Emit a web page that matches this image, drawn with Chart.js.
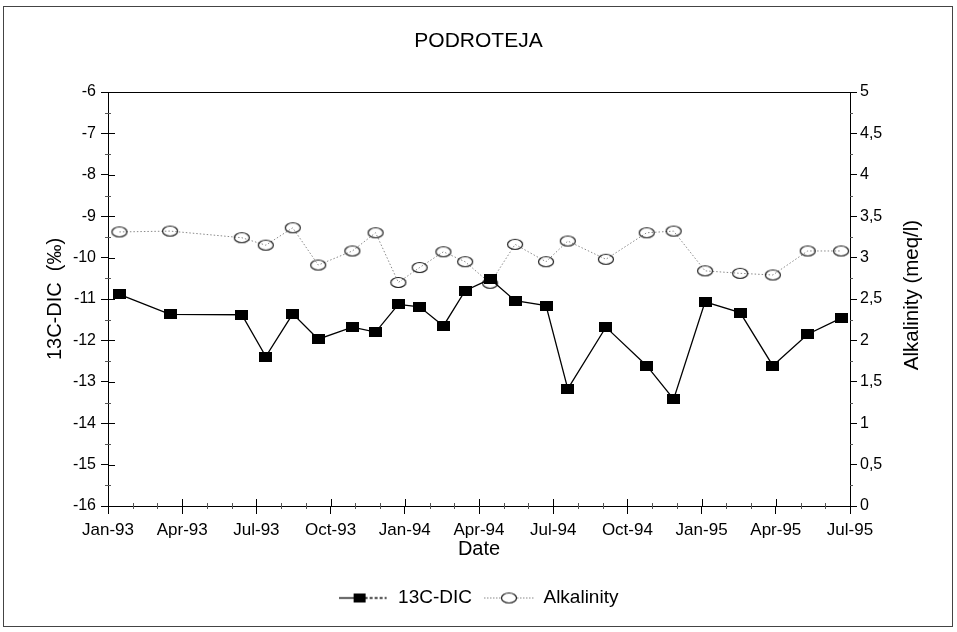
<!DOCTYPE html>
<html><head><meta charset="utf-8">
<script src="https://cdn.jsdelivr.net/npm/chart.js@4.4.1/dist/chart.umd.min.js"></script>
<style>
html,body{margin:0;padding:0;background:#fff;}
#wrap{position:relative;width:957px;height:632px;}
#frame{position:absolute;left:3px;top:6px;width:950px;height:621px;border:1px solid #444;box-sizing:border-box;pointer-events:none;}
canvas{position:absolute;left:0;top:0;}
</style></head><body>
<div id="wrap"><canvas id="c" width="957" height="632"></canvas><div id="frame"></div></div>
<script>
const chartTitle = 'PODROTEJA';
// sampling dates, in months since 1 Jan 1993
const sampleMonths = [0.46, 2.51, 5.41, 6.38, 7.47, 8.50, 9.88, 10.82, 11.74, 12.60, 13.56, 14.44, 15.45, 16.46, 17.71, 18.59, 20.13, 21.78, 22.87, 24.14, 25.56, 26.88, 28.29, 29.64];
const dic13C = [-10.89, -11.37, -11.38, -12.39, -11.36, -11.97, -11.68, -11.80, -11.13, -11.19, -11.65, -10.80, -10.52, -11.04, -11.16, -13.17, -11.68, -12.61, -13.42, -11.07, -11.33, -12.61, -11.85, -11.46];
const alkalinity = [3.31, 3.32, 3.24, 3.15, 3.36, 2.91, 3.08, 3.30, 2.70, 2.88, 3.07, 2.95, 2.69, 3.16, 2.95, 3.20, 2.98, 3.30, 3.32, 2.84, 2.81, 2.79, 3.08, 3.08];
const xTickLabels = ['Jan-93','Apr-93','Jul-93','Oct-93','Jan-94','Apr-94','Jul-94','Oct-94','Jan-95','Apr-95','Jul-95'];
const seriesNames = ['13C-DIC', 'Alkalinity'];

const FONT = '"Liberation Sans", Arial, Helvetica, sans-serif';

function makeCanvas(w, h, draw) {
  const c = document.createElement('canvas');
  c.width = w; c.height = h;
  draw(c.getContext('2d'), w, h);
  return c;
}
const squareImg = makeCanvas(13, 10, (g, w, h) => { g.fillStyle = '#000'; g.fillRect(0, 0, w, h); });
const ellipseImg = makeCanvas(18, 13, (g, w, h) => {
  g.strokeStyle = '#1a1a1a'; g.lineWidth = 1.2;
  g.beginPath(); g.ellipse(w / 2, h / 2, 7.5, 5, 0, 0, Math.PI * 2); g.stroke();
});
const legendDic = makeCanvas(50, 19, (g, w, h) => {
  g.strokeStyle = '#000'; g.lineWidth = 1.3;
  g.beginPath(); g.moveTo(0, 9.5); g.lineTo(18, 9.5); g.stroke();
  g.setLineDash([3, 2]); g.beginPath(); g.moveTo(26, 9.5); g.lineTo(48, 9.5); g.stroke();
  g.fillStyle = '#000'; g.fillRect(15, 5, 12, 9);
});
const legendAlk = makeCanvas(50, 19, (g, w, h) => {
  g.strokeStyle = '#888'; g.lineWidth = 1; g.setLineDash([1.5, 1.5]);
  g.beginPath(); g.moveTo(0, 9.5); g.lineTo(50, 9.5); g.stroke();
  g.setLineDash([]); g.fillStyle = '#fff'; g.strokeStyle = '#1a1a1a'; g.lineWidth = 1.2;
  g.beginPath(); g.ellipse(25, 9.5, 7.5, 5, 0, 0, Math.PI * 2); g.fill(); g.stroke();
});

const decor = {
  id: 'decor',
  afterDraw(chart) {
    const ctx = chart.ctx, a = chart.chartArea;
    const xs = chart.scales.x, yl = chart.scales.y, yr = chart.scales.y1;
    const seg = (x1, y1, x2, y2) => { ctx.beginPath(); ctx.moveTo(x1, y1); ctx.lineTo(x2, y2); ctx.stroke(); };
    ctx.save();
    ctx.strokeStyle = '#000'; ctx.lineWidth = 1;
    seg(a.left, a.top + 0.5, a.right, a.top + 0.5);
    xs.ticks.forEach(t => { const p = Math.round(xs.getPixelForValue(t.value)) + 0.5; seg(p, a.bottom, p, a.bottom - 7); });
    yl.ticks.forEach(t => { const p = Math.round(yl.getPixelForValue(t.value)) + 0.5; seg(a.left, p, a.left + 7, p); });
    ctx.strokeStyle = '#555';
    for (let m = 0; m <= 30; m++) {
      if (m % 3 === 0) continue;
      const p = Math.round(xs.getPixelForValue(m)) + 0.5; seg(p, a.bottom - 3, p, a.bottom + 3);
    }
    for (let v = -15.5; v < -6; v += 1) {
      const p = Math.round(yl.getPixelForValue(v)) + 0.5; seg(a.left - 3, p, a.left + 3, p);
    }
    for (let v = 0.25; v < 5; v += 0.5) {
      const p = Math.round(yr.getPixelForValue(v)) + 0.5; seg(a.right, p, a.right + 3, p);
    }
    // right axis title, reading bottom to top
    ctx.fillStyle = '#000';
    ctx.font = '20.5px ' + FONT;
    ctx.textAlign = 'center'; ctx.textBaseline = 'middle';
    ctx.translate(912, (a.top + a.bottom) / 2 - 4);
    ctx.rotate(-Math.PI / 2);
    ctx.fillText('Alkalinity (meq/l)', 0, 0);
    ctx.restore();
  }
};

new Chart(document.getElementById('c'), {
  type: 'line',
  data: {
    datasets: [
      {
        label: seriesNames[0],
        data: sampleMonths.map((m, i) => ({ x: m, y: dic13C[i] })),
        yAxisID: 'y',
        borderColor: '#000', borderWidth: 1.3,
        pointStyle: squareImg, pointRadius: 6,
        tension: 0
      },
      {
        label: seriesNames[1],
        data: sampleMonths.map((m, i) => ({ x: m, y: alkalinity[i] })),
        yAxisID: 'y1',
        borderColor: '#8a8a8a', borderWidth: 1, borderDash: [1.5, 2],
        pointStyle: ellipseImg, pointRadius: 6,
        tension: 0
      }
    ]
  },
  options: {
    responsive: false,
    animation: false,
    events: [],
    layout: { padding: { left: 0, right: 0, top: 0, bottom: 14.5 } },
    plugins: {
      tooltip: { enabled: false },
      title: {
        display: true, text: chartTitle, color: '#000',
        font: { family: FONT, size: 21, weight: 'normal' },
        padding: { top: 28.4, bottom: 38.4 }
      },
      legend: {
        position: 'bottom',
        labels: {
          usePointStyle: true, pointStyleWidth: 50, padding: 12,
          color: '#000', font: { family: FONT, size: 19 },
          generateLabels: (chart) => [
            { text: seriesNames[0], pointStyle: legendDic, datasetIndex: 0, fontColor: '#000', lineWidth: 0, strokeStyle: 'transparent', fillStyle: 'transparent' },
            { text: seriesNames[1], pointStyle: legendAlk, datasetIndex: 1, fontColor: '#000', lineWidth: 0, strokeStyle: 'transparent', fillStyle: 'transparent' }
          ]
        }
      }
    },
    scales: {
      x: {
        type: 'linear', min: 0, max: 30,
        afterFit: s => { s.height = 70.5; },
        afterBuildTicks: s => { s.ticks = xTickLabels.map((_, i) => ({ value: i * 3 })); },
        ticks: {
          autoSkip: false, maxRotation: 0, padding: 6, color: '#000',
          font: { family: FONT, size: 17 },
          callback: (v) => xTickLabels[Math.round(v / 3)]
        },
        grid: { drawOnChartArea: false, tickLength: 8, color: '#000' },
        border: { color: '#000', width: 1 },
        title: { display: true, text: 'Date', color: '#000', font: { family: FONT, size: 20 }, padding: { top: 0, bottom: 15 } }
      },
      y: {
        type: 'linear', position: 'left', min: -16, max: -6,
        afterFit: s => { s.width = 108; },
        ticks: { stepSize: 1, padding: 5, color: '#000', font: { family: FONT, size: 16 } },
        grid: { drawOnChartArea: false, tickLength: 7, color: '#000' },
        border: { color: '#000', width: 1 },
        title: { display: true, text: '13C-DIC  (‰)', color: '#000', font: { family: FONT, size: 20 }, padding: { top: 43, bottom: 0 } }
      },
      y1: {
        type: 'linear', position: 'right', min: 0, max: 5,
        afterFit: s => { s.width = 107; },
        ticks: {
          stepSize: 0.5, padding: 3, color: '#000', font: { family: FONT, size: 16 },
          callback: (v) => String(v).replace('.', ',')
        },
        grid: { drawOnChartArea: false, tickLength: 7, color: '#000' },
        border: { color: '#000', width: 1 }
      }
    }
  },
  plugins: [decor]
});
</script>
</body></html>
